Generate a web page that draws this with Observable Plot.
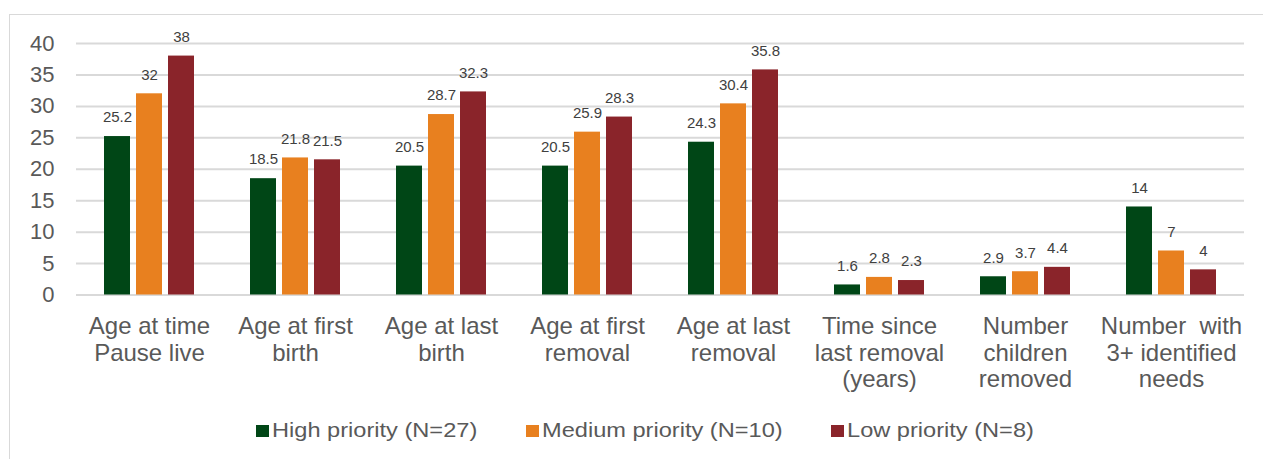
<!DOCTYPE html>
<html>
<head>
<meta charset="utf-8">
<script src="https://cdn.jsdelivr.net/npm/d3@7"></script>
<script src="https://cdn.jsdelivr.net/npm/@observablehq/plot@0.6"></script>
<style>
  html, body { margin: 0; padding: 0; background: #fff; width: 1263px; height: 459px; overflow: hidden; }
  body { position: relative; font-family: "Liberation Sans", Arial, sans-serif; }
  #chart { position: absolute; left: 0; top: 0; }
  #frame { position: absolute; left: 9px; top: 14px; width: 1260px; height: 460px;
           border-top: 1px solid #d9d9d9; border-left: 1px solid #d9d9d9; pointer-events: none; }
  #legend { position: absolute; top: 420px; left: 0; height: 20px; width: 1263px; }
  .item { position: absolute; top: 0; height: 20px; }
  .sw { position: absolute; top: 5px; left: 0; width: 12.5px; height: 12px; }
  .lab { position: absolute; top: 0; left: 16px; font-size: 20px; line-height: 20px; color: #595959;
         white-space: nowrap; transform: scaleX(1.18); transform-origin: left center; }
</style>
</head>
<body>
<div id="chart"></div>
<div id="frame"></div>
<div id="legend"></div>
<script>
// ---- data ----
const categories = [
  "Age at time\nPause live",
  "Age at first\nbirth",
  "Age at last\nbirth",
  "Age at first\nremoval",
  "Age at last\nremoval",
  "Time since\nlast removal\n(years)",
  "Number\nchildren\nremoved",
  "Number \u00a0with\n3+ identified\nneeds"
];
const seriesNames = ["High priority (N=27)", "Medium priority (N=10)", "Low priority (N=8)"];
const highValues   = [25.2, 18.5, 20.5, 20.5, 24.3, 1.6, 2.9, 14];
const mediumValues = [32, 21.8, 28.7, 25.9, 30.4, 2.8, 3.7, 7];
const lowValues    = [38, 21.5, 32.3, 28.3, 35.8, 2.3, 4.4, 4];
const yTicks = [0, 5, 10, 15, 20, 25, 30, 35, 40];
const seriesColors = ["#004616", "#e8801f", "#8a242a"];

// ---- table built from arrays ----
const valueSets = [highValues, mediumValues, lowValues];
const rows = [];
categories.forEach((c, i) => {
  seriesNames.forEach((s, j) => rows.push({cat: c, series: s, value: valueSets[j][i]}));
});

const chart = Plot.plot({
  width: 1263,
  height: 410,
  marginTop: 43,
  marginBottom: 115.5,
  marginLeft: 74,
  marginRight: 16.5,
  style: {fontFamily: "Liberation Sans, Arial, sans-serif", background: "transparent"},
  fx: {domain: categories, paddingInner: 0, paddingOuter: 0, label: null},
  x: {domain: seriesNames, paddingInner: 0.2, paddingOuter: 0.868, axis: null},
  y: {domain: [0, 40], label: null},
  color: {domain: seriesNames, range: seriesColors},
  marks: [
    Plot.gridY(yTicks, {stroke: "#d9d9d9", strokeWidth: 2, strokeOpacity: 1}),
    Plot.axisY(yTicks, {tickSize: 0, tickPadding: 22, fontSize: 22, fill: "#595959", label: null}),
    Plot.barY(rows, {fx: "cat", x: "series", y: "value", fill: "series"}),
    Plot.text(rows, {fx: "cat", x: "series", y: "value", text: d => String(d.value),
      dy: -19, fontSize: 15, fill: "#404040"}),
    Plot.axisFx({anchor: "bottom", tickSize: 0, tickPadding: 20.5, fontSize: 24,
      lineHeight: 1.1, label: null, fill: "#595959"})
  ]
});
document.getElementById("chart").appendChild(chart);

// ---- legend ----
const legendLefts = [256, 526, 831];
const legend = document.getElementById("legend");
seriesNames.forEach((s, j) => {
  const item = document.createElement("div");
  item.className = "item";
  item.style.left = legendLefts[j] + "px";
  const sw = document.createElement("div");
  sw.className = "sw";
  sw.style.background = seriesColors[j];
  const lab = document.createElement("span");
  lab.className = "lab";
  lab.textContent = s;
  item.appendChild(sw);
  item.appendChild(lab);
  legend.appendChild(item);
});
</script>
</body>
</html>
